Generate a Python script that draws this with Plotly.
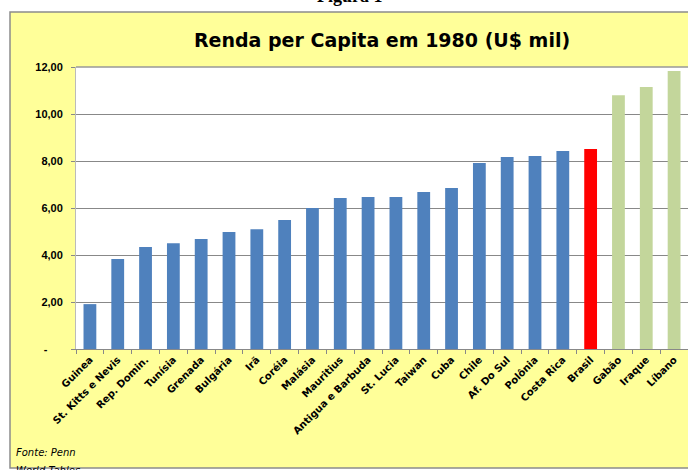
import plotly.graph_objects as go

countries = ["Guinea", "St. Kitts e Nevis", "Rep. Domin.", "Tunísia", "Grenada", "Bulgária",
             "Irã", "Coréia", "Malásia", "Mauritius", "Antigua e Barbuda", "St. Lucia",
             "Taiwan", "Cuba", "Chile", "Af. Do Sul", "Polônia", "Costa Rica", "Brasil",
             "Gabão", "Iraque", "Líbano"]
income = [1.91, 3.83, 4.34, 4.50, 4.68, 4.98, 5.10, 5.49, 6.00, 6.43, 6.47, 6.47,
          6.68, 6.85, 7.91, 8.17, 8.21, 8.43, 8.51, 10.80, 11.15, 11.83]
group = ["base"] * 18 + ["brasil"] + ["alto"] * 3
group_colors = {"base": "#4F81BD", "brasil": "#FF0000", "alto": "#C3D69B"}
y_ticks = [0, 2, 4, 6, 8, 10, 12]
y_ticktext = ["-&nbsp;&nbsp;&nbsp;&nbsp;&nbsp;", "2,00", "4,00", "6,00", "8,00", "10,00", "12,00"]

W, H = 688, 470
L, R, T, B = 76, 0, 67, 121

fig = go.Figure(go.Bar(
    x=countries, y=income,
    marker=dict(color=[group_colors[g] for g in group], line=dict(width=0)),
    width=0.46,
))

pw = W - L - R
ph = H - T - B
def px2paper_x(px):
    return (px - L) / pw
def px2paper_y(py):
    return (H - B - py) / ph

fig.update_layout(
    width=W, height=H,
    margin=dict(l=L, r=R, t=T, b=B, autoexpand=False),
    paper_bgcolor="white", plot_bgcolor="white",
    showlegend=False,
    title=dict(text="<b>Renda per Capita em 1980 (U$ mil)</b>",
               font=dict(family="DejaVu Sans", size=19, color="black"),
               x=0.5, xref="paper", xanchor="center", y=1 - 40 / H, yanchor="middle"),
    xaxis=dict(
        tickangle=-45, tickfont=dict(family="DejaVu Sans", size=10, color="black", weight="bold"),
        ticks="outside", ticklen=4, tickcolor="#888", tickson="boundaries",
        showline=True, linecolor="#888", linewidth=1,
        showgrid=False, range=[-0.5, 21.5],
    ),
    yaxis=dict(
        range=[0, 12], tickvals=y_ticks, ticktext=y_ticktext,
        tickfont=dict(family="Liberation Sans", size=11, color="black", weight="bold"),
        ticks="outside", ticklen=4, tickcolor="#888", ticklabelstandoff=6,
        showline=True, linecolor="#bbb", linewidth=1,
        showgrid=True, gridcolor="#888", gridwidth=1, zeroline=False,
    ),
    shapes=[
        dict(type="rect", xref="paper", yref="paper", layer="below",
             x0=px2paper_x(10), x1=px2paper_x(700), y0=px2paper_y(468), y1=px2paper_y(12),
             fillcolor="#FFFF99", line=dict(color="#8c8c8c", width=1.5)),
        dict(type="rect", xref="paper", yref="paper", layer="below",
             x0=0, x1=1.01, y0=0, y1=1,
             fillcolor="white", line=dict(width=0)),
        dict(type="line", xref="paper", yref="paper",
             x0=0, x1=1.01, y0=1, y1=1, line=dict(color="#999", width=1.5)),
    ],
    annotations=[
        dict(text="<i>Fonte: Penn</i>", xref="paper", yref="paper",
             x=px2paper_x(14), y=px2paper_y(452), xanchor="left", yanchor="middle",
             showarrow=False, font=dict(family="DejaVu Sans", size=10, color="black")),
        dict(text="<i>World Tables</i>", xref="paper", yref="paper",
             x=px2paper_x(14), y=px2paper_y(470), xanchor="left", yanchor="middle",
             showarrow=False, font=dict(family="DejaVu Sans", size=10, color="black")),
        dict(text="<b>Figura 1</b>", xref="paper", yref="paper",
             x=px2paper_x(350), y=px2paper_y(-4), xanchor="center", yanchor="middle",
             showarrow=False, font=dict(family="Liberation Serif", size=18, color="black")),
    ],
)

fig.write_html(
    "out.html",
    config={"displayModeBar": False},
    post_script="document.body.style.margin='0';document.body.style.overflow='hidden';"
                "document.documentElement.style.overflow='hidden';",
)
